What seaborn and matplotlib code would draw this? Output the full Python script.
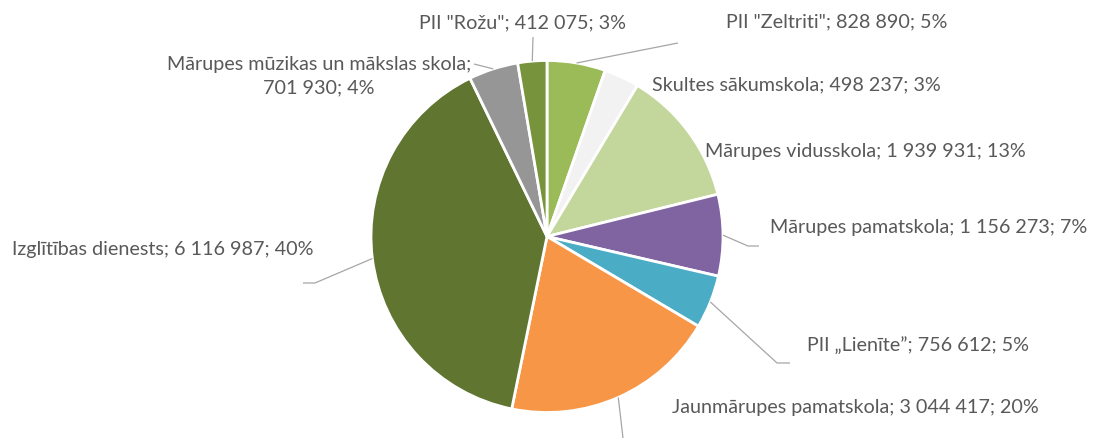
import matplotlib
matplotlib.use("Agg")
import matplotlib.pyplot as plt
import seaborn as sns
import numpy as np

# ---- data ----
categories = ['PII "Zeltriti"', 'Skultes sākumskola', 'Mārupes vidusskola',
              'Mārupes pamatskola', 'PII „Lienīte”', 'Jaunmārupes pamatskola',
              'Izglītības dienests', 'Mārupes mūzikas un mākslas skola', 'PII "Rožu"']
values = [828890, 498237, 1939931, 1156273, 756612, 3044417, 6116987, 701930, 412075]
percents = [5, 3, 13, 7, 5, 20, 40, 4, 3]

# ---- styles / layout ----
colors = ['#9BBB59', '#F2F2F2', '#C3D69B', '#8064A2', '#4BACC6',
          '#F79646', '#5F7530', '#969696', '#77933C']
W, H = 1093, 439
CX, CY, R = 547, 237.5, 176
# label centers (pixel, top-down) and leader-line points after the wedge edge
label_pos = [(837, 22), (796, 85), (865, 152), (929, 227), (918, 345),
             (855, 408), (163, 250), (319, 76), (522, 23)]
label_sep = [False, False, False, False, False, False, False, True, False]
leader_pts = [[(678, 44)], [], [], [(748, 247), (759, 247)], [(777, 364), (790, 364)],
              [(623, 439)], [(315, 284), (303, 284)], [(474, 65)], [(533, 38)]]

sns.set_theme(style="white")
plt.rcParams['font.family'] = ['Lato', 'DejaVu Sans']

fig = plt.figure(figsize=(W / 100, H / 100), dpi=100)
ax = fig.add_axes([0, 0, 1, 1])

wedges, _ = ax.pie(values, colors=colors, startangle=90, counterclock=False,
                   center=(CX, H - CY), radius=R,
                   wedgeprops=dict(edgecolor='white', linewidth=2))
ax.set_xlim(0, W)
ax.set_ylim(0, H)
ax.axis('off')

def fmt(v):
    return f"{v:,}".replace(",", " ")

for i, w in enumerate(wedges):
    ang = np.deg2rad((w.theta1 + w.theta2) / 2)
    sx = CX + R * np.cos(ang)
    sy = (H - CY) + R * np.sin(ang)
    pts = leader_pts[i]
    if pts:
        xs = [sx] + [p[0] for p in pts]
        ys = [sy] + [H - p[1] for p in pts]
        ax.plot(xs, ys, color='#A6A6A6', lw=0.9, solid_capstyle='butt', zorder=1)
    sep = "\n" if label_sep[i] else " "
    txt = f"{categories[i]};{sep}{fmt(values[i])}; {percents[i]}%"
    lx, ly = label_pos[i]
    ax.text(lx, H - ly, txt, ha='center', va='center', fontsize=14.2,
            color='#595959', linespacing=1.42)

fig.savefig("out.png", dpi=100, facecolor='white')
